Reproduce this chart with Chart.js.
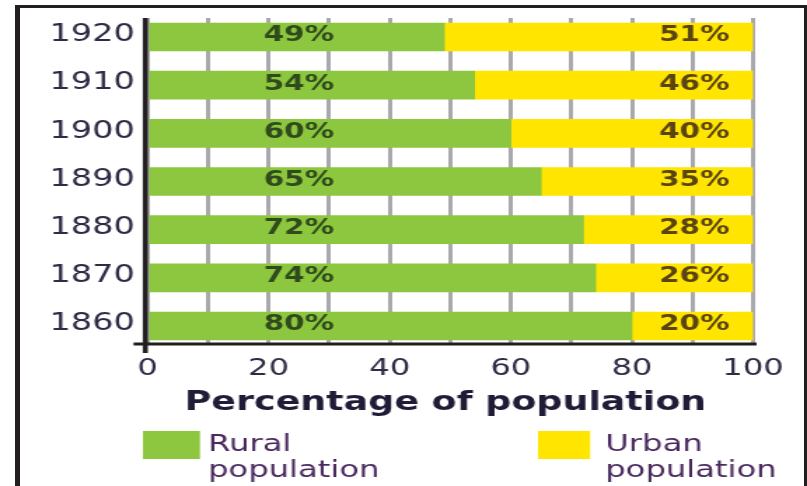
<!DOCTYPE html>
<html>
<head>
<meta charset="utf-8">
<script src="https://cdn.jsdelivr.net/npm/chart.js@4/dist/chart.umd.min.js"></script>
<style>
  html, body { margin: 0; padding: 0; background: #fff; width: 807px; height: 486px; overflow: hidden; }
  #frame { position: absolute; left: 15px; top: 5px; width: 784px; height: 600px;
           border-left: 5px solid #231f20; border-top: 3px solid #231f20; border-right: 3px solid #231f20; }
  #wrap { position: absolute; left: 0; top: 0; width: 576px; height: 486px;
          transform: scaleX(1.40104); transform-origin: 0 0; }
</style>
</head>
<body>
<div id="frame"></div>
<div id="wrap"><canvas id="c" width="576" height="486"></canvas></div>
<script>
// ---- data ----
const years = ['1920', '1910', '1900', '1890', '1880', '1870', '1860'];
const rural = [49, 54, 60, 65, 72, 74, 80];
const urban = [51, 46, 40, 35, 28, 26, 20];
const xTickLabels = [0, 20, 40, 60, 80, 100];
const seriesNames = [['Rural', 'population'], ['Urban', 'population']];
const axisTitle = 'Percentage of population';

const GREEN = '#8dc63f';
const YELLOW = '#ffe500';
const DARK = '#231f20';
const FONT = '"DejaVu Sans", Verdana, sans-serif';

const labelsPlugin = {
  id: 'pctLabels',
  afterDatasetsDraw(chart) {
    const ctx = chart.ctx;
    const xs = chart.scales.x;
    const area = chart.chartArea;
    // axis lines (with small overhangs like the original)
    ctx.save();
    ctx.strokeStyle = DARK;
    ctx.lineWidth = 3.6;
    ctx.beginPath();
    ctx.moveTo(area.left - 1.6, area.top);
    ctx.lineTo(area.left - 1.6, area.bottom + 9);
    ctx.stroke();
    ctx.lineWidth = 2.8;
    ctx.beginPath();
    ctx.moveTo(area.left - 10, area.bottom);
    ctx.lineTo(area.right + 2.5, area.bottom);
    ctx.stroke();

    // percentage labels
    ctx.font = 'bold 21px ' + FONT;
    ctx.textAlign = 'center';
    ctx.textBaseline = 'middle';
    const m0 = chart.getDatasetMeta(0), m1 = chart.getDatasetMeta(1);
    m0.data.forEach((bar, i) => {
      ctx.fillStyle = '#2f4a1c';
      ctx.fillText(rural[i] + '%', xs.getPixelForValue(25), bar.y - 1);
    });
    m1.data.forEach((bar, i) => {
      ctx.fillStyle = '#5a4512';
      ctx.fillText(urban[i] + '%', xs.getPixelForValue(90.3), bar.y - 1);
    });
    ctx.restore();
  },
  afterDraw(chart) {
    const ctx = chart.ctx;
    const area = chart.chartArea;
    ctx.save();
    // axis title
    ctx.font = 'bold 26px ' + FONT;
    ctx.fillStyle = '#1f1c38';
    ctx.textAlign = 'center';
    ctx.textBaseline = 'alphabetic';
    ctx.fillText(axisTitle, (area.left + area.right) / 2 - 3.5, 410);
    // legend
    const items = [
      { color: GREEN, box: [area.left - 3.3, 431, 40.7, 28], tx: 148.5 },
      { color: YELLOW, box: [384, 431, 37.2, 28], tx: 432 }
    ];
    ctx.font = '23px ' + FONT;
    ctx.textAlign = 'left';
    items.forEach((it, k) => {
      ctx.fillStyle = it.color;
      ctx.fillRect(it.box[0], it.box[1], it.box[2], it.box[3]);
      ctx.fillStyle = '#4a2a5e';
      seriesNames[k].forEach((line, j) => {
        ctx.fillText(line, it.tx, 451 + j * 25.5);
      });
    });
    ctx.restore();
  }
};

new Chart(document.getElementById('c'), {
  type: 'bar',
  data: {
    datasets: [
      { label: 'Rural population', data: rural.map((v, i) => ({ x: v, y: i })), backgroundColor: GREEN, borderWidth: 0, barThickness: 28 },
      { label: 'Urban population', data: urban.map((v, i) => ({ x: v, y: i })), backgroundColor: YELLOW, borderWidth: 0, barThickness: 28 }
    ]
  },
  options: {
    indexAxis: 'y',
    responsive: false,
    devicePixelRatio: 1,
    animation: false,
    layout: { padding: { top: 18, right: 38.5, left: 0, bottom: 0 } },
    plugins: { legend: { display: false }, tooltip: { enabled: false } },
    scales: {
      x: {
        type: 'linear', min: 0, max: 100, stacked: true,
        afterFit(s) { s.height = 142; s.paddingLeft = 0; s.paddingRight = 0; },
        grid: { color: '#a9a9ad', lineWidth: 3, drawTicks: false },
        border: { display: false },
        ticks: {
          stepSize: 10, autoSkip: false, maxRotation: 0, padding: 11,
          color: '#2f2a45', font: { family: FONT, size: 23 },
          callback: v => xTickLabels.includes(v) ? String(v) : ''
        }
      },
      y: {
        type: 'linear', min: -0.395, max: 6.374, bounds: 'data', reverse: true, stacked: true,
        offset: false,
        afterDataLimits(s) { s.min = -0.395; s.max = 6.374; },
        afterFit(s) { s.width = 105.3; s.paddingTop = 0; s.paddingBottom = 0; },
        afterBuildTicks(s) { s.ticks = years.map((_, i) => ({ value: i })); },
        grid: { display: false, drawTicks: false, offset: false },
        border: { display: false },
        ticks: {
          padding: 9, labelOffset: -2, stepSize: 1, includeBounds: false,
          color: '#2f2a45', font: { family: FONT, size: 24 },
          callback: (v, i) => years[i]
        }
      }
    }
  },
  plugins: [labelsPlugin]
});
</script>
</body>
</html>
